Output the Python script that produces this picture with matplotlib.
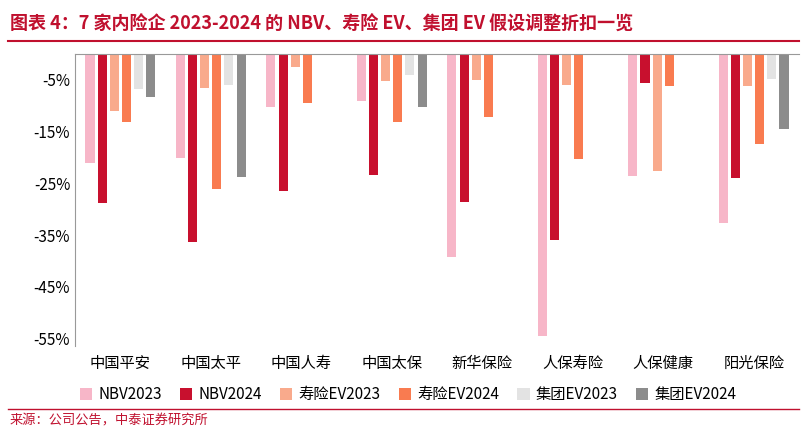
import numpy as np
import matplotlib.pyplot as plt
from matplotlib.lines import Line2D

plt.rcParams['font.family'] = ['Noto Sans CJK SC', 'DejaVu Sans']

companies = ['中国平安', '中国太平', '中国人寿', '中国太保', '新华保险', '人保寿险', '人保健康', '阳光保险']
series = ['NBV2023', 'NBV2024', '寿险EV2023', '寿险EV2024', '集团EV2023', '集团EV2024']
nbv2023 = [-21.0, -20.0, -10.3, -9.1, -39.2, -54.4, -23.5, -32.6]
nbv2024 = [-28.7, -36.3, -26.4, -23.3, -28.5, -35.9, -5.6, -23.9]
life_ev2023 = [-10.9, -6.6, -2.5, -5.2, -5.0, -6.0, -22.5, -6.2]
life_ev2024 = [-13.2, -26.0, -9.5, -13.2, -12.2, -20.2, -6.2, -17.3]
group_ev2023 = [-6.8, -6.0, np.nan, -4.1, np.nan, np.nan, np.nan, -4.9]
group_ev2024 = [-8.3, -23.7, np.nan, -10.3, np.nan, np.nan, np.nan, -14.4]
values = [nbv2023, nbv2024, life_ev2023, life_ev2024, group_ev2023, group_ev2024]
colors = ['#F7B6C8', '#C8102E', '#F9AA8C', '#F97B50', '#E3E3E3', '#8C8C8C']

fig = plt.figure(figsize=(8.07, 4.33), dpi=100)
ax = fig.add_axes([0.093, 0.2, 0.897, 0.675])

x = np.arange(len(companies))
step, width = 0.134, 0.1
for i, (vals, c) in enumerate(zip(values, colors)):
    ax.bar(x + (i - 2.5) * step, vals, width, color=c, label=series[i])

ax.set_ylim(-56.5, 0)
ax.set_xlim(-0.5, len(companies) - 0.5)
ax.set_yticks([-5, -15, -25, -35, -45, -55])
ax.set_yticklabels([f'{v}%' for v in [-5, -15, -25, -35, -45, -55]], fontsize=11)
ax.set_xticks(x)
ax.set_xticklabels(companies, fontsize=11)
ax.tick_params(axis='x', length=0, pad=6)
ax.tick_params(axis='y', length=0)
for s in ['right', 'bottom']:
    ax.spines[s].set_visible(False)
ax.spines['left'].set_color('#999999')
ax.spines['top'].set_color('#999999')

ax.legend(loc='upper center', bbox_to_anchor=(0.46, -0.09), ncol=6, frameon=False,
          fontsize=11, handlelength=0.8, handleheight=0.8, columnspacing=1.2, handletextpad=0.4)

fig.text(0.012, 0.945, '图表 4：7 家内险企 2023-2024 的 NBV、寿险 EV、集团 EV 假设调整折扣一览',
         color='#C0102E', fontsize=13, fontweight='bold', fontstyle='italic', va='center')
fig.add_artist(Line2D([0.01, 0.99], [0.905, 0.905], color='#C0102E', lw=1.5))
fig.add_artist(Line2D([0.01, 0.99], [0.055, 0.055], color='#C0102E', lw=1))
fig.text(0.012, 0.028, '来源：公司公告，中泰证券研究所', color='#C0102E', fontsize=9.5, va='center')

fig.savefig('out.png', dpi=100)
